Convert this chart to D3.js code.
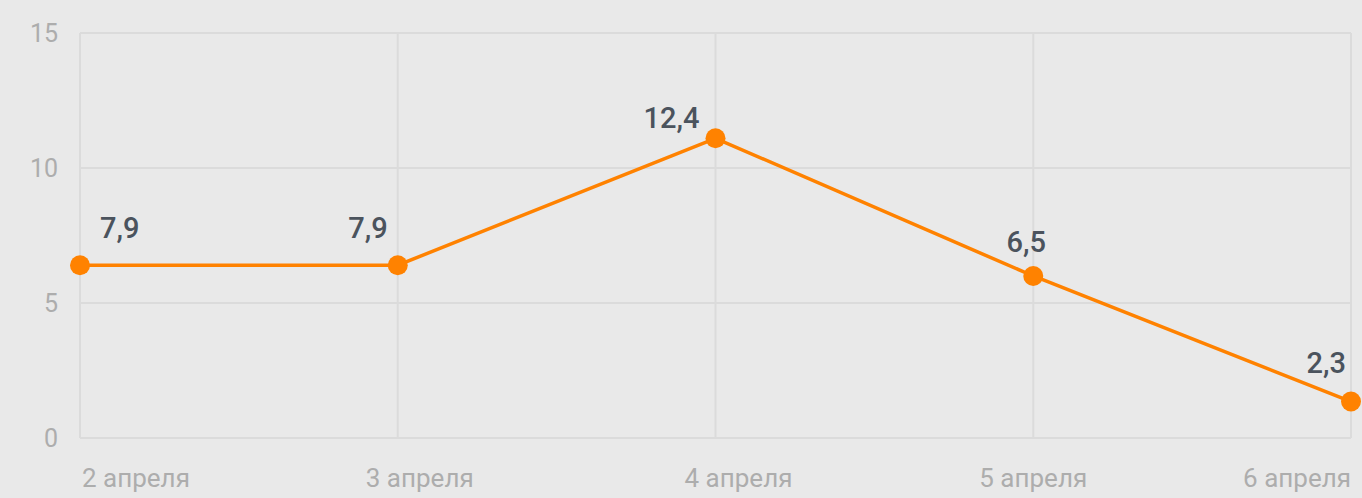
<!DOCTYPE html>
<html>
<head>
<meta charset="utf-8">
<script src="https://cdn.jsdelivr.net/npm/d3@7"></script>
<style>
  html, body { margin: 0; padding: 0; background: #e9e9e9; }
  svg { display: block; font-family: Roboto, "Noto Sans", sans-serif; }
</style>
</head>
<body>
<svg id="chart"></svg>
<script>
// Line chart: daily values, 2–6 April

const days = ["2 апреля", "3 апреля", "4 апреля", "5 апреля", "6 апреля"];
const values = [6.4, 6.4, 11.1, 6.0, 1.35];          // plotted positions, as drawn
const valueLabels = ["7,9", "7,9", "12,4", "6,5", "2,3"]; // printed labels
const yTicks = [0, 5, 10, 15];

// label placement relative to each point: [dx, dy, anchor]
const labelPlace = [[20, -27, "start"], [-10, -27, "end"], [-16, -10, "end"], [-7, -24, "middle"], [-5, -29, "end"]];
const xLabelPlace = [[2, "start"], [22, "middle"], [23, "middle"], [0, "middle"], [0, "end"]];

const width = 1362;
const height = 498;

const svg = d3.select("#chart")
    .attr("width", width)
    .attr("height", height);

const x = d3.scalePoint()
    .domain(days)
    .range([80, 1351]);

const y = d3.scaleLinear()
    .domain([0, 15])
    .range([438, 33]);

// grid
svg.append("g")
    .selectAll("line")
    .data(yTicks)
    .enter().append("line")
    .attr("x1", 80)
    .attr("x2", 1351)
    .attr("y1", d => y(d))
    .attr("y2", d => y(d))
    .attr("stroke", "#dbdbdb")
    .attr("stroke-width", 2);

svg.append("g")
    .selectAll("line")
    .data(days)
    .enter().append("line")
    .attr("x1", d => x(d))
    .attr("x2", d => x(d))
    .attr("y1", y(15))
    .attr("y2", y(0))
    .attr("stroke", "#dbdbdb")
    .attr("stroke-width", 2);

// y tick labels
svg.append("g")
    .selectAll("text")
    .data(yTicks)
    .enter().append("text")
    .attr("x", 58)
    .attr("y", d => y(d))
    .attr("dy", "0.35em")
    .attr("text-anchor", "end")
    .attr("font-size", 25)
    .attr("fill", "#adadad")
    .text(d => d);

// x tick labels
svg.append("g")
    .selectAll("text")
    .data(days)
    .enter().append("text")
    .attr("x", (d, i) => x(d) + xLabelPlace[i][0])
    .attr("y", 487)
    .attr("text-anchor", (d, i) => xLabelPlace[i][1])
    .attr("font-size", 26)
    .attr("fill", "#adadad")
    .text(d => d);

// line
const line = d3.line()
    .x((d, i) => x(days[i]))
    .y(d => y(d));

svg.append("path")
    .datum(values)
    .attr("d", line)
    .attr("fill", "none")
    .attr("stroke", "#ff8200")
    .attr("stroke-width", 3.5);

svg.append("g")
    .selectAll("circle")
    .data(values)
    .enter().append("circle")
    .attr("cx", (d, i) => x(days[i]))
    .attr("cy", d => y(d))
    .attr("r", 10)
    .attr("fill", "#ff8200");

// value labels
svg.append("g")
    .selectAll("text")
    .data(values)
    .enter().append("text")
    .attr("x", (d, i) => x(days[i]) + labelPlace[i][0])
    .attr("y", (d, i) => y(d) + labelPlace[i][1])
    .attr("text-anchor", (d, i) => labelPlace[i][2])
    .attr("font-size", 29)
    .attr("font-weight", 500)
    .attr("fill", "#4b535d")
    .text((d, i) => valueLabels[i]);
</script>
</body>
</html>
